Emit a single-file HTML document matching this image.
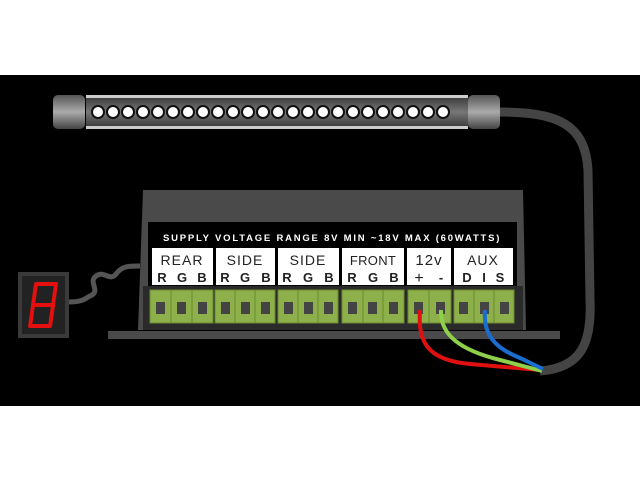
<!DOCTYPE html>
<html><head><style>html,body{margin:0;padding:0;background:#fff}svg{display:block}</style></head>
<body>
<svg width="640" height="480" viewBox="0 0 640 480" xmlns="http://www.w3.org/2000/svg">
<defs>
<linearGradient id="cap" x1="0" y1="0" x2="0" y2="1">
<stop offset="0" stop-color="#555"/><stop offset="0.5" stop-color="#aaa"/><stop offset="1" stop-color="#444"/></linearGradient>
<linearGradient id="tube" x1="0" y1="0" x2="0" y2="1">
<stop offset="0" stop-color="#333"/><stop offset="0.5" stop-color="#777"/><stop offset="1" stop-color="#333"/></linearGradient>
</defs>
<rect x="0" y="75" width="640" height="331" fill="#000"/>
<path d="M498 112 C560 112 585 125 588 170 L590 300 C592 345 580 368 540 371" stroke="#444" stroke-width="9" fill="none"/>
<rect x="86" y="95" width="382" height="34" fill="url(#tube)"/>
<rect x="86" y="95" width="382" height="3" fill="#ccc"/>
<rect x="86" y="126" width="382" height="3" fill="#ccc"/>
<rect x="53" y="95" width="32" height="34" rx="5" fill="url(#cap)"/>
<rect x="468" y="95" width="32" height="34" rx="5" fill="url(#cap)"/>
<g fill="#fff" stroke="#111" stroke-width="2">
<circle cx="98" cy="112" r="6"/><circle cx="113" cy="112" r="6"/><circle cx="128" cy="112" r="6"/><circle cx="143" cy="112" r="6"/><circle cx="158" cy="112" r="6"/><circle cx="173" cy="112" r="6"/><circle cx="188" cy="112" r="6"/><circle cx="203" cy="112" r="6"/><circle cx="218" cy="112" r="6"/><circle cx="233" cy="112" r="6"/><circle cx="248" cy="112" r="6"/><circle cx="263" cy="112" r="6"/><circle cx="278" cy="112" r="6"/><circle cx="293" cy="112" r="6"/><circle cx="308" cy="112" r="6"/><circle cx="323" cy="112" r="6"/><circle cx="338" cy="112" r="6"/><circle cx="353" cy="112" r="6"/><circle cx="368" cy="112" r="6"/><circle cx="383" cy="112" r="6"/><circle cx="398" cy="112" r="6"/><circle cx="413" cy="112" r="6"/><circle cx="428" cy="112" r="6"/><circle cx="443" cy="112" r="6"/>
</g>
<path d="M68 302 C85 302 85 298 92 295 C100 290 88 282 96 276 C104 270 110 282 116 274 C122 266 128 266 140 266" stroke="#555" stroke-width="5" fill="none"/>
<rect x="18" y="272" width="51" height="66" fill="#3a3a3a"/>
<rect x="22" y="276" width="43" height="58" fill="#222"/>
<g transform="translate(30 284) skewX(-8)" fill="none" stroke="#e41010" stroke-width="4" stroke-linejoin="round">
<rect x="6" y="0" width="20" height="21"/><rect x="6" y="21" width="20" height="21"/>
</g>
<path d="M143 190 L523 190 L526 330 L138 330 Z" fill="#4a4a4a"/>
<rect x="108" y="331" width="452" height="8" fill="#4a4a4a"/>
<rect x="148" y="222" width="369" height="64" fill="#000"/>
<text x="332" y="241" font-family="Liberation Sans, sans-serif" font-size="9.5" font-weight="bold" fill="#fff" text-anchor="middle" letter-spacing="1.6" textLength="338" lengthAdjust="spacing">SUPPLY VOLTAGE RANGE 8V MIN ~18V MAX (60WATTS)</text>
<g fill="#fff">
<rect x="152" y="248" width="61" height="37"/><rect x="216" y="248" width="59" height="37"/><rect x="278" y="248" width="61" height="37"/><rect x="342" y="248" width="62" height="37"/><rect x="407" y="248" width="44" height="37"/><rect x="454" y="248" width="59" height="37"/>
</g>
<g font-family="Liberation Sans, sans-serif" font-size="14" fill="#222" text-anchor="middle" letter-spacing="1">
<text x="182" y="265">REAR</text><text x="245" y="265">SIDE</text><text x="308" y="265">SIDE</text><text x="373" y="265" font-size="13" letter-spacing="0.3">FRONT</text><text x="429" y="265" font-size="15">12v</text><text x="483" y="265">AUX</text>
</g>
<g font-family="Liberation Sans, sans-serif" font-size="13" font-weight="bold" fill="#222" text-anchor="middle">
<text x="162" y="282">R</text><text x="182" y="282">G</text><text x="202" y="282">B</text>
<text x="225" y="282">R</text><text x="245" y="282">G</text><text x="266" y="282">B</text>
<text x="287" y="282">R</text><text x="308" y="282">G</text><text x="329" y="282">B</text>
<text x="352" y="282">R</text><text x="373" y="282">G</text><text x="394" y="282">B</text>
<text x="419" y="283" font-size="16" font-weight="normal">+</text><text x="441" y="282">-</text>
<text x="467" y="282">D</text><text x="484" y="282">I</text><text x="500" y="282">S</text>
</g>
<rect x="143" y="286" width="380" height="44" fill="#2a2a2a"/>
<g fill="#8db04a" stroke="#6a8a30" stroke-width="1">
<rect x="150" y="290" width="21" height="33"/><rect x="171" y="290" width="21" height="33"/><rect x="192" y="290" width="21" height="33"/>
<rect x="215" y="290" width="20" height="33"/><rect x="235" y="290" width="20" height="33"/><rect x="255" y="290" width="20" height="33"/>
<rect x="278" y="290" width="20" height="33"/><rect x="298" y="290" width="20" height="33"/><rect x="318" y="290" width="20" height="33"/>
<rect x="342" y="290" width="21" height="33"/><rect x="363" y="290" width="20" height="33"/><rect x="383" y="290" width="21" height="33"/>
<rect x="408" y="290" width="21" height="33"/><rect x="429" y="290" width="22" height="33"/>
<rect x="454" y="290" width="20" height="33"/><rect x="474" y="290" width="20" height="33"/><rect x="494" y="290" width="20" height="33"/>
</g>
<g fill="#444">
<rect x="156" y="302" width="9" height="12"/><rect x="177" y="302" width="9" height="12"/><rect x="198" y="302" width="9" height="12"/>
<rect x="221" y="302" width="9" height="12"/><rect x="241" y="302" width="9" height="12"/><rect x="261" y="302" width="9" height="12"/>
<rect x="284" y="302" width="9" height="12"/><rect x="304" y="302" width="9" height="12"/><rect x="324" y="302" width="9" height="12"/>
<rect x="348" y="302" width="9" height="12"/><rect x="368" y="302" width="9" height="12"/><rect x="389" y="302" width="9" height="12"/>
<rect x="414" y="302" width="9" height="12"/><rect x="436" y="302" width="9" height="12"/>
<rect x="459" y="302" width="9" height="12"/><rect x="480" y="302" width="9" height="12"/><rect x="500" y="302" width="9" height="12"/>
</g>
<path d="M420 310 C418 340 425 360 470 364 L540 370" stroke="#e01010" stroke-width="4" fill="none"/>
<path d="M441 310 C440 335 460 350 500 360 L542 371" stroke="#8fd04a" stroke-width="4" fill="none"/>
<path d="M485 310 C483 335 495 348 520 358 L543 369" stroke="#1a6ed0" stroke-width="4" fill="none"/>
</svg>
</body></html>
